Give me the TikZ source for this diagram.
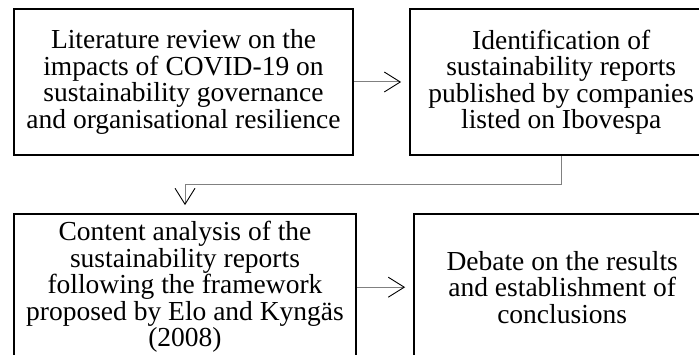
\documentclass[tikz,border=0pt]{standalone}
\usepackage{fontspec}
\setmainfont{Liberation Serif}
\usetikzlibrary{arrows.meta,positioning}
\tikzset{
  stage/.style={draw, line width=2.2pt, align=center, fill=white,
    minimum height=146pt, inner sep=3pt,
    font=\fontsize{27.5}{26.5}\selectfont},
  arrow/.style={-{Straight Barb[length=16pt,width=20pt,line width=0.9pt,color=black]},
    draw=gray, line width=1pt, shorten >=8pt},
}
\begin{document}
\begin{tikzpicture}
  \useasboundingbox (0,0) rectangle (699pt,-355pt);
  \clip (0,0) rectangle (699pt,-355pt);
  \begin{scope}[overlay]
  \node[stage, minimum width=339pt] (lit) at (183.5pt,-82pt)
    {Literature review on the\\impacts of COVID-19 on\\sustainability governance\\and organisational resilience};
  \node[stage, minimum width=302pt, right=55pt of lit] (ident)
    {Identification of\\sustainability reports\\published by companies\\listed on Ibovespa};
  \node[stage, minimum width=342pt, below=57pt of lit.south west, anchor=north west] (content)
    {Content analysis of the\\sustainability reports\\following the framework\\proposed by Elo and Kyng\"as\\(2008)};
  \node[stage, minimum width=296pt, right=56pt of content] (debate)
    {Debate on the results\\and establishment of\\conclusions};

  \draw[arrow] (lit) -- (ident);
  \draw[arrow] (ident.south) -- ++(0,-28pt) -| (content.north);
  \draw[arrow] (content) -- (debate);
  \end{scope}
\end{tikzpicture}
\end{document}
